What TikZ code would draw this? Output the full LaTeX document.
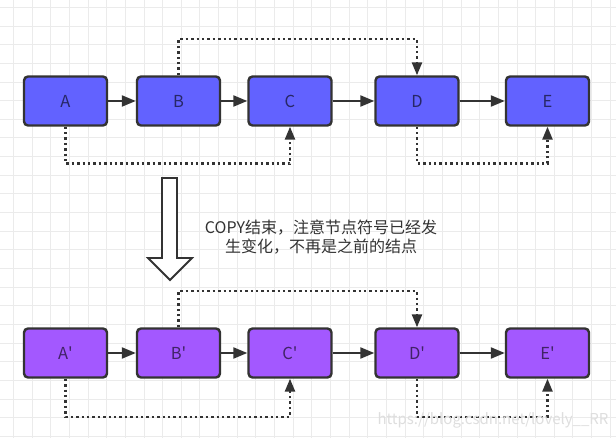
\documentclass[tikz,border=0pt]{standalone}
\usepackage{fontspec}
\setmainfont{Noto Sans CJK SC}
\usetikzlibrary{arrows.meta}

\definecolor{oldfill}{RGB}{98,98,255}
\definecolor{newfill}{RGB}{163,88,255}
\definecolor{edge}{RGB}{51,51,51}

\tikzset{
    box/.style={draw=edge, line width=2.4pt, rounded corners=4pt, minimum width=83pt, minimum height=49pt,
        font=\fontsize{16.5}{19}\selectfont, text=black, text opacity=0.6},
    oldbox/.style={box, fill=oldfill},
    newbox/.style={box, fill=newfill},
    link/.style={draw=edge, line width=2.2pt, -{Triangle[length=14pt,width=11pt]}},
    skip/.style={draw=edge, line width=2.4pt, dash pattern=on 2.4pt off 3pt, -{Triangle[length=13pt,width=10pt]}},
    gridline/.style={draw=black!8, line width=0.7pt}
}

\begin{document}
\begin{tikzpicture}[x=1pt,y=-1pt]
    \useasboundingbox (0,0) rectangle (616,438);
    \fill[white] (0,0) rectangle (616,438);
    \foreach \i in {0,...,32} \draw[gridline] ({13.3+18.65*\i},0) -- ++(0,438);
    \foreach \j in {0,...,23} \draw[gridline] (0,{7.3+18.65*\j}) -- ++(616,0);

    % before copy
    \node[oldbox] (a) at (65.5,101) {A};
    \node[oldbox] (b) at (178.5,101) {B};
    \node[oldbox] (c) at (290,101) {C};
    \node[oldbox] (d) at (417,101) {D};
    \node[oldbox] (e) at (547.5,101) {E};
    \draw[link] (a) -- (b);
    \draw[link] (b) -- (c);
    \draw[link] (c) -- (d);
    \draw[link] (d) -- (e);
    \draw[skip] (b.north) -- ++(0,-36) -| (d.north);
    \draw[skip] (a.south) -- ++(0,37) -| (c.south);
    \draw[skip] (d.south) -- ++(0,37) -| (e.south);

    % hollow arrow and note
    \draw[draw=edge, line width=1.8pt, fill=white, line join=miter]
        (162,178) -- (177,178) -- (177,258) -- (192,258) -- (170,280) -- (148,258) -- (162,258) -- cycle;
    \node[align=center, font=\fontsize{16}{19}\selectfont, text=black!80] (note) at (321,237)
        {COPY结束，注意节点符号已经发\\生变化，不再是之前的结点};

    % after copy
    \node[newbox] (a2) at (65.5,353) {A\textquotesingle};
    \node[newbox] (b2) at (178.5,353) {B\textquotesingle};
    \node[newbox] (c2) at (290,353) {C\textquotesingle};
    \node[newbox] (d2) at (417,353) {D\textquotesingle};
    \node[newbox] (e2) at (547.5,353) {E\textquotesingle};
    \draw[link] (a2) -- (b2);
    \draw[link] (b2) -- (c2);
    \draw[link] (c2) -- (d2);
    \draw[link] (d2) -- (e2);
    \draw[skip] (b2.north) -- ++(0,-36) -| (d2.north);
    \draw[skip] (a2.south) -- ++(0,38) -| (c2.south);
    \draw[skip] (d2.south) -- ++(0,38) -| (e2.south);

    \node[font=\fontsize{15}{18}\selectfont, text=black!13] (mark) at (493,420) {https://blog.csdn.net/lovely\_\_RR};
\end{tikzpicture}
\end{document}
